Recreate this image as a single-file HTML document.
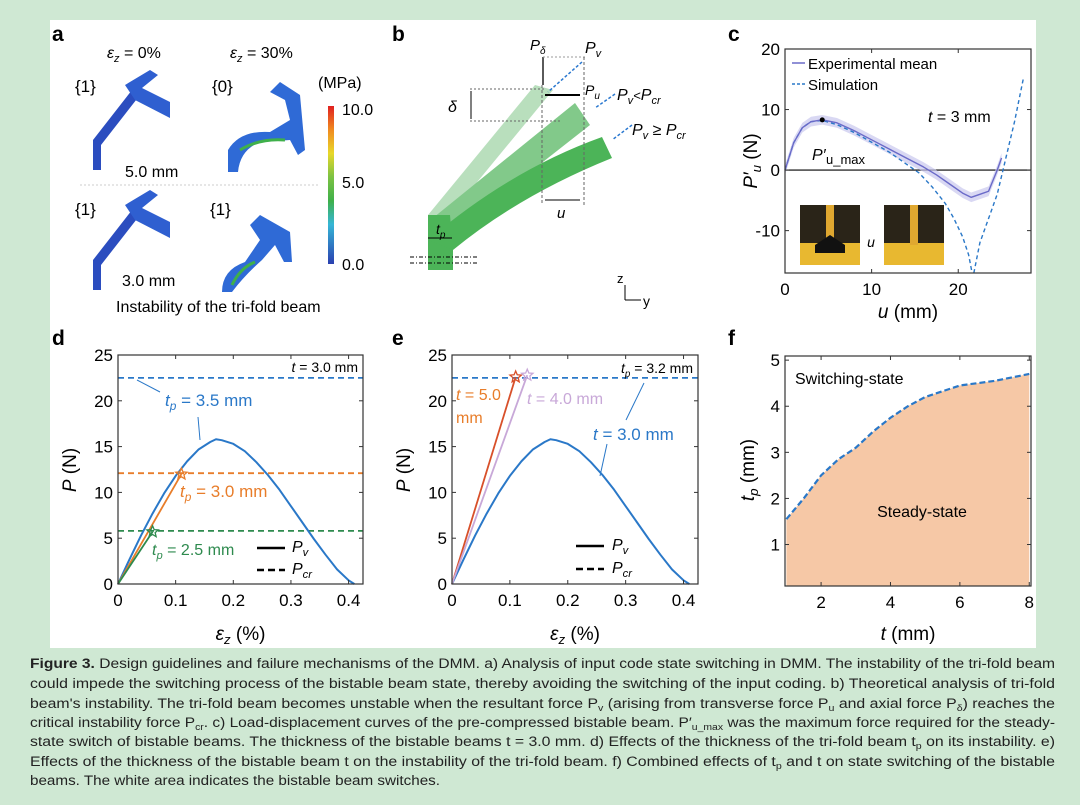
<!DOCTYPE html>
<html><head><meta charset="utf-8">
<style>
html,body{margin:0;padding:0;background:#cfe8d3;}
svg{display:block;font-family:"Liberation Sans",sans-serif;}
</style></head>
<body>
<svg id="fig" width="1080" height="805" viewBox="0 0 1080 805">
<rect x="0" y="0" width="1080" height="805" fill="#cfe8d3"/>
<rect x="50" y="20" width="986" height="628" fill="#fff"/>

<g font-weight="bold" font-size="21">
<text x="52" y="41">a</text><text x="392" y="41">b</text><text x="728" y="41">c</text>
<text x="52" y="345">d</text><text x="392" y="345">e</text><text x="728" y="345">f</text>
</g>

<g>
<text x="107" y="58" font-size="16" font-style="italic">ε<tspan font-size="11" dy="4">z</tspan><tspan dy="-4" font-style="normal"> = 0%</tspan></text>
<text x="230" y="58" font-size="16" font-style="italic">ε<tspan font-size="11" dy="4">z</tspan><tspan dy="-4" font-style="normal"> = 30%</tspan></text>
<text x="75" y="92" font-size="17">{1}</text><text x="212" y="92" font-size="17">{0}</text>
<text x="75" y="215" font-size="17">{1}</text><text x="210" y="215" font-size="17">{1}</text>
<path d="M93 170 L93 140 L132 90 L140 95 L101 145 L101 170Z" fill="#2b4dbf"/>
<path d="M125 85 L150 70 L158 75 L142 88 L170 102 L170 118 L135 100Z" fill="#2f5fd0"/>
<path d="M93 290 L93 260 L132 210 L140 215 L101 265 L101 290Z" fill="#2b4dbf"/>
<path d="M125 205 L150 190 L158 195 L142 208 L170 222 L170 238 L135 220Z" fill="#2f5fd0"/>
<path d="M228 172 L228 150 Q240 130 270 132 L290 120 L285 100 L270 92 L280 82 L300 95 L305 150 L298 155 L290 140 L260 142 Q240 150 238 172Z" fill="#2f6ad6"/>
<path d="M240 150 Q260 138 285 140" stroke="#3fb04a" stroke-width="3" fill="none"/>
<path d="M222 292 Q222 270 245 262 L260 240 L250 225 L260 215 L290 232 L292 262 L284 262 L275 245 L262 260 Q245 275 232 292Z" fill="#2f6ad6"/>
<path d="M232 285 Q240 268 255 262" stroke="#3fb04a" stroke-width="3" fill="none"/>
<text x="125" y="177" font-size="16">5.0 mm</text>
<text x="122" y="286" font-size="16">3.0 mm</text>
<line x1="80" y1="185" x2="318" y2="185" stroke="#ccc" stroke-dasharray="2 2"/>
<text x="116" y="312" font-size="16">Instability of the tri-fold beam</text>
<text x="318" y="88" font-size="16">(MPa)</text>
<defs><linearGradient id="cb" x1="0" y1="0" x2="0" y2="1">
<stop offset="0" stop-color="#e02020"/><stop offset="0.15" stop-color="#f08a20"/><stop offset="0.3" stop-color="#e8d82a"/><stop offset="0.45" stop-color="#7cc243"/><stop offset="0.6" stop-color="#3fb04a"/><stop offset="0.75" stop-color="#36b6d6"/><stop offset="1" stop-color="#2a3fb0"/></linearGradient></defs>
<rect x="328" y="106" width="6" height="158" fill="url(#cb)"/>
<text x="342" y="115" font-size="16">10.0</text>
<text x="342" y="188" font-size="16">5.0</text>
<text x="342" y="270" font-size="16">0.0</text>
</g>

<g>
<path d="M428 215 L535 85 L553 90 L450 215Z" fill="#b9dfbd"/>
<path d="M428 222 L575 103 L590 125 L450 235Z" fill="#82c98a"/>
<path d="M428 240 L428 270 L453 270 L453 250 Q520 195 612 158 L602 137 Q510 170 428 240Z" fill="#4cb458"/>
<path d="M428 240 L428 215 L450 215 L453 250Z" fill="#4cb458"/>
<text x="530" y="50" font-size="15" font-style="italic">P<tspan font-size="10" dy="4">δ</tspan></text>
<text x="585" y="53" font-size="16" font-style="italic">P<tspan font-size="11" dy="4">v</tspan></text>
<text x="585" y="95" font-size="14" font-style="italic">P<tspan font-size="10" dy="4">u</tspan></text>
<text x="617" y="100" font-size="16" font-style="italic">P<tspan font-size="11" dy="4">v</tspan><tspan dy="-4" font-size="13">&lt;</tspan>P<tspan font-size="11" dy="4">cr</tspan></text>
<text x="632" y="135" font-size="16" font-style="italic">P<tspan font-size="11" dy="4">v</tspan><tspan dy="-4" font-style="normal"> ≥ </tspan>P<tspan font-size="11" dy="4">cr</tspan></text>
<line x1="543" y1="57" x2="543" y2="85" stroke="#000" stroke-width="1.3"/>
<line x1="543" y1="57" x2="585" y2="57" stroke="#999" stroke-dasharray="2 2"/>
<line x1="584" y1="57" x2="584" y2="205" stroke="#666" stroke-dasharray="3 2"/>
<line x1="542" y1="85" x2="542" y2="205" stroke="#666" stroke-dasharray="3 2"/>
<line x1="545" y1="95" x2="580" y2="95" stroke="#000" stroke-width="2"/>
<line x1="582" y1="62" x2="548" y2="92" stroke="#2a78d0" stroke-dasharray="3 2" stroke-width="1.5"/>
<line x1="615" y1="94" x2="595" y2="108" stroke="#2a78d0" stroke-dasharray="3 2" stroke-width="1.5"/>
<line x1="632" y1="125" x2="612" y2="140" stroke="#2a78d0" stroke-dasharray="3 2" stroke-width="1.5"/>
<line x1="470" y1="89" x2="545" y2="89" stroke="#666" stroke-dasharray="2 2"/>
<line x1="470" y1="121" x2="560" y2="121" stroke="#666" stroke-dasharray="2 2"/>
<line x1="471" y1="91" x2="471" y2="119" stroke="#000"/>
<text x="448" y="112" font-size="16" font-style="italic">δ</text>
<line x1="545" y1="200" x2="580" y2="200" stroke="#000"/>
<text x="557" y="218" font-size="15" font-style="italic">u</text>
<text x="436" y="234" font-size="14" font-style="italic">t<tspan font-size="10" dy="4">p</tspan></text>
<line x1="428" y1="238" x2="452" y2="238" stroke="#000"/>
<line x1="410" y1="257" x2="477" y2="257" stroke="#000" stroke-dasharray="4 2 1 2"/>
<line x1="410" y1="263" x2="477" y2="263" stroke="#000" stroke-dasharray="4 2 1 2"/>
<text x="617" y="283" font-size="13">z</text>
<line x1="625" y1="285" x2="625" y2="300" stroke="#000"/>
<line x1="625" y1="300" x2="641" y2="300" stroke="#000"/>
<text x="643" y="306" font-size="14">y</text>
</g>

<g id="pc"></g>
<g id="pd"></g>
<g id="pe"></g>
<g id="pf"></g>

<g font-size="13.4" fill="#222">
<text x="30" y="668" textLength="1025" lengthAdjust="spacingAndGlyphs"><tspan font-weight="bold">Figure 3.</tspan>  Design guidelines and failure mechanisms of the DMM. a) Analysis of input code state switching in DMM. The instability of the tri-fold beam</text>
<text x="30" y="688" textLength="1025" lengthAdjust="spacingAndGlyphs">could impede the switching process of the bistable beam state, thereby avoiding the switching of the input coding. b) Theoretical analysis of tri-fold</text>
<text x="30" y="708" textLength="1025" lengthAdjust="spacingAndGlyphs">beam's instability. The tri-fold beam becomes unstable when the resultant force P<tspan font-size="9" dy="3">v</tspan><tspan dy="-3"> (arising from transverse force P</tspan><tspan font-size="9" dy="3">u</tspan><tspan dy="-3"> and axial force P</tspan><tspan font-size="9" dy="3">δ</tspan><tspan dy="-3">) reaches the</tspan></text>
<text x="30" y="727" textLength="1025" lengthAdjust="spacingAndGlyphs">critical instability force P<tspan font-size="9" dy="3">cr</tspan><tspan dy="-3">. c) Load-displacement curves of the pre-compressed bistable beam. P′</tspan><tspan font-size="9" dy="3">u_max</tspan><tspan dy="-3"> was the maximum force required for the steady-</tspan></text>
<text x="30" y="746" textLength="1025" lengthAdjust="spacingAndGlyphs">state switch of bistable beams. The thickness of the bistable beams t = 3.0 mm. d) Effects of the thickness of the tri-fold beam t<tspan font-size="9" dy="3">p</tspan><tspan dy="-3"> on its instability. e)</tspan></text>
<text x="30" y="766" textLength="1025" lengthAdjust="spacingAndGlyphs">Effects of the thickness of the bistable beam t on the instability of the tri-fold beam. f) Combined effects of t<tspan font-size="9" dy="3">p</tspan><tspan dy="-3"> and t on state switching of the bistable</tspan></text>
<text x="30" y="785" textLength="410" lengthAdjust="spacingAndGlyphs">beams. The white area indicates the bistable beam switches.</text>
</g>
</svg>

<script>
const cExpU = [0, 1, 2, 3, 4.3, 6, 8, 10, 12, 14, 16, 17.5, 19, 20.5, 21.5, 22.5, 23.5, 24.5, 25];
const cExpP = [0, 4.5, 7, 8, 8.3, 7.8, 6.5, 5, 3.5, 2, 0.5, -0.8, -2.3, -3.8, -4.5, -4, -3.5, 0, 2];
const cSimU = [0, 1, 2, 3, 4.3, 6, 8, 10, 12, 14, 15.5, 17, 18.5, 19.5, 20.5, 21.2, 21.6];
const cSimP = [0, 4.5, 7, 8, 8.2, 7.5, 6.2, 4.6, 3, 1, -0.5, -2.8, -5.5, -8, -11, -14, -17];
const cSim2U = [21.8, 22.5, 23.5, 24.5, 25.5, 26.5, 27.5];
const cSim2P = [-17, -12, -8, -4, 2, 8, 15];
const archX = [0, 0.02, 0.04, 0.06, 0.08, 0.1, 0.12, 0.14, 0.16, 0.17, 0.18, 0.2, 0.22, 0.24, 0.26, 0.28, 0.3, 0.32, 0.34, 0.36, 0.38, 0.4, 0.41];
const archY = [0, 2.7, 5.3, 7.7, 9.9, 11.8, 13.4, 14.7, 15.5, 15.8, 15.7, 15.3, 14.5, 13.3, 11.9, 10.3, 8.5, 6.7, 4.9, 3.2, 1.6, 0.4, 0];
const dPcr = [22.5, 12.1, 5.8];
const dColors = ['#2a78c8', '#e87d2a', '#2e8a4e'];
const dLineX = [0.11, 0.06];
const dLineY = [12.0, 5.7];
const ePcr = [22.5];
const eLineX = [0.11, 0.13];
const eLineY = [22.6, 22.8];
const fT = [1, 1.5, 2, 2.5, 3, 3.5, 4, 4.5, 5, 6, 7, 8];
const fTp = [1.55, 2.0, 2.5, 2.85, 3.1, 3.45, 3.75, 4.0, 4.2, 4.45, 4.55, 4.7];

const NS = 'http://www.w3.org/2000/svg';
function mk(parent, tag, attrs) {
  const e = document.createElementNS(NS, tag);
  for (const k in attrs) e.setAttribute(k, attrs[k]);
  parent.appendChild(e); return e;
}
function txt(parent, x, y, s, size, anchor) {
  const t = mk(parent, 'text', {x: x, y: y, 'font-size': size || 17, 'text-anchor': anchor || 'middle'});
  t.textContent = s; return t;
}
function axes(g, L, R, T, B, xmin, xmax, ymin, ymax) {
  const sx = v => L + (v - xmin) / (xmax - xmin) * (R - L);
  const sy = v => B - (v - ymin) / (ymax - ymin) * (B - T);
  return {sx, sy};
}
function frame(g, L, R, T, B, xt, yt, sx, sy, xlabels, ylabels) {
  const r = mk(g, 'rect', {x: L, y: T, width: R - L, height: B - T, fill: 'none', stroke: '#333', 'stroke-width': 1.2});
  
  
  xt.forEach((v, i) => {
    mk(g, 'line', {x1: sx(v), x2: sx(v), y1: B, y2: B - 4, stroke: '#333'});
    mk(g, 'line', {x1: sx(v), x2: sx(v), y1: T, y2: T + 4, stroke: '#333'});
    const t = txt(g, sx(v), B + 22, xlabels[i], 17);
    
    
  });
  yt.forEach((v, i) => {
    mk(g, 'line', {x1: L, x2: L + 4, y1: sy(v), y2: sy(v), stroke: '#333'});
    mk(g, 'line', {x1: R, x2: R - 4, y1: sy(v), y2: sy(v), stroke: '#333'});
    const t = txt(g, L - 5, sy(v) + 6, ylabels[i], 17, 'end');
    
    
  });
}
function poly(g, xs, ys, sx, sy, attrs, name) {
  const p = mk(g, 'polyline', Object.assign({points: xs.map((x, i) => sx(x) + ',' + sy(ys[i])).join(' '), fill: 'none', 'stroke-linejoin': 'round'}, attrs));
  
  
  return p;
}
function star(g, cx, cy, r, color, name) {
  let pts = [];
  for (let i = 0; i < 10; i++) {
    const a = -Math.PI / 2 + i * Math.PI / 5, rr = i % 2 ? r * 0.45 : r;
    pts.push((cx + rr * Math.cos(a)) + ',' + (cy + rr * Math.sin(a)));
  }
  const s = mk(g, 'polygon', {points: pts.join(' '), fill: 'none', stroke: color, 'stroke-width': 1.3});
  
  
}
function subLabel(g, x, y, main, sub, rest, size, color, anchor) {
  const t = mk(g, 'text', {x: x, y: y, 'font-size': size, fill: color || '#000', 'text-anchor': anchor || 'start'});
  const a = mk(t, 'tspan', {'font-style': 'italic'}); a.textContent = main;
  if (sub) {
    const b = mk(t, 'tspan', {'font-style': 'italic', 'font-size': size * 0.7, dy: 4}); b.textContent = sub;
    const c = mk(t, 'tspan', {dy: -4}); c.textContent = rest;
  } else {
    const c = mk(t, 'tspan', {}); c.textContent = rest;
  }
  return t;
}

(function () {
  const g = document.getElementById('pc');
  const L = 785, R = 1031, T = 49, B = 273;
  const {sx, sy} = axes(g, L, R, T, B, 0, 28.4, -17, 20);
  mk(g, 'line', {x1: L, x2: R, y1: sy(0), y2: sy(0), stroke: '#000', 'stroke-width': 1.2});
  const up = cExpU.map((u, i) => sx(u) + ',' + sy(cExpP[i] + 0.8)).join(' ');
  const dn = cExpU.slice().reverse().map((u, i) => sx(u) + ',' + sy(cExpP[cExpU.length - 1 - i] - 0.8)).join(' ');
  const band = mk(g, 'polygon', {points: up + ' ' + dn, fill: '#c9c8ee', opacity: 0.7});
  
  
  const ph = [[800, 205, 60, 60], [884, 205, 60, 60]];
  ph.forEach((p, i) => {
    const r = mk(g, 'rect', {x: p[0], y: p[1], width: p[2], height: p[3], fill: '#2a2418'});
    
    
    mk(g, 'rect', {x: p[0], y: p[1] + 38, width: p[2], height: 22, fill: '#e8b830'});
    mk(g, 'rect', {x: p[0] + 26, y: p[1], width: 8, height: 40, fill: '#e0a830'});
  });
  mk(g, 'polygon', {points: '815,245 830,235 845,245 845,253 815,253', fill: '#111'});
  txt(g, 871, 247, 'u', 14).setAttribute('font-style', 'italic');
  poly(g, cSimU, cSimP, sx, sy, {stroke: '#2a78c8', 'stroke-width': 1.4, 'stroke-dasharray': '4 3'}, 'simulation-line');
  poly(g, cSim2U, cSim2P, sx, sy, {stroke: '#2a78c8', 'stroke-width': 1.4, 'stroke-dasharray': '4 3'}, 'simulation-line-2');
  poly(g, cExpU, cExpP, sx, sy, {stroke: '#6a6ac8', 'stroke-width': 1.4}, 'experimental-mean-line');
  const dot = mk(g, 'circle', {cx: sx(4.3), cy: sy(8.3), r: 2.5, fill: '#000'});
  
  
  frame(g, L, R, T, B, [0, 10, 20], [20, 10, 0, -10], sx, sy, ['0', '10', '20'], ['20', '10', '0', '-10']);
  mk(g, 'line', {x1: 792, x2: 805, y1: 63, y2: 63, stroke: '#6a6ac8', 'stroke-width': 1.5});
  txt(g, 808, 69, 'Experimental mean', 15, 'start');
  mk(g, 'line', {x1: 792, x2: 805, y1: 84, y2: 84, stroke: '#2a78c8', 'stroke-width': 1.5, 'stroke-dasharray': '3 2'});
  txt(g, 808, 90, 'Simulation', 15, 'start');
  subLabel(g, 928, 122, 't', '', ' = 3 mm', 16);
  txt(g, 812, 160, 'P′', 16, 'start').setAttribute('font-style', 'italic');
  txt(g, 826, 164, 'u_max', 13, 'start');
  subLabel(g, 908, 318, 'u', '', ' (mm)', 19, '#000', 'middle');
  const yl = subLabel(g, 0, 0, 'P′', 'u', ' (N)', 19, '#000', 'middle');
  yl.setAttribute('transform', 'translate(757,161) rotate(-90)');
})();

function pvPanel(id, L, R, pcr, lx, ly, lcols) {
  const g = document.getElementById(id);
  const T = 355, B = 584;
  const {sx, sy} = axes(g, L, R, T, B, 0, 0.425, 0, 25);
  pcr.forEach((v, i) => {
    const l = mk(g, 'line', {x1: L, x2: R, y1: sy(v), y2: sy(v), stroke: dColors[i], 'stroke-width': 1.8, 'stroke-dasharray': '6 4'});
    
    
  });
  poly(g, archX, archY, sx, sy, {stroke: '#2a78c8', 'stroke-width': 2}, 'pv-curve');
  lx.forEach((x, i) => {
    poly(g, [0, x], [0, ly[i]], sx, sy, {stroke: lcols[i], 'stroke-width': 1.8}, 'pv-line-' + i);
    star(g, sx(x), sy(ly[i]), 6, lcols[i], 'critical-star-' + i);
  });
  frame(g, L, R, T, B, [0, 0.1, 0.2, 0.3, 0.4], [0, 5, 10, 15, 20, 25], sx, sy,
    ['0', '0.1', '0.2', '0.3', '0.4'], ['0', '5', '10', '15', '20', '25']);
  subLabel(g, (L + R) / 2, 640, 'ε', 'z', ' (%)', 19, '#000', 'middle');
  const yl = subLabel(g, 0, 0, 'P', '', ' (N)', 19, '#000', 'middle');
  yl.setAttribute('transform', 'translate(' + (L - 42) + ',470) rotate(-90)');
  return {g, sx, sy};
}
(function () {
  const p = pvPanel('pd', 118, 363, dPcr, dLineX, dLineY, ['#e87d2a', '#2e8a4e']);
  const g = p.g;
  subLabel(g, 358, 372, 't', '', ' = 3.0 mm', 14, '#000', 'end');
  subLabel(g, 165, 406, 't', 'p', ' = 3.5 mm', 17, '#2a78c8');
  subLabel(g, 180, 497, 't', 'p', ' = 3.0 mm', 17, '#e87d2a');
  subLabel(g, 152, 555, 't', 'p', ' = 2.5 mm', 16, '#2e8a4e');
  mk(g, 'line', {x1: 257, x2: 285, y1: 548, y2: 548, stroke: '#000', 'stroke-width': 2.5});
  mk(g, 'line', {x1: 257, x2: 285, y1: 570, y2: 570, stroke: '#000', 'stroke-width': 2.5, 'stroke-dasharray': '7 4'});
  subLabel(g, 292, 552, 'P', 'v', '', 16);
  subLabel(g, 292, 574, 'P', 'cr', '', 16);
  mk(g, 'line', {x1: 137, x2: 160, y1: 380, y2: 392, stroke: '#2a78c8'});
  mk(g, 'line', {x1: 200, x2: 198, y1: 440, y2: 417, stroke: '#2a78c8'});
})();
(function () {
  const p = pvPanel('pe', 452, 698, ePcr, eLineX, eLineY, ['#d8502a', '#c8a8d8']);
  const g = p.g;
  subLabel(g, 693, 373, 't', 'p', ' = 3.2 mm', 14, '#000', 'end');
  subLabel(g, 456, 400, 't', '', ' = 5.0', 16, '#e87d2a');
  txt(g, 456, 423, 'mm', 16, 'start').setAttribute('fill', '#e87d2a');
  subLabel(g, 527, 404, 't', '', ' = 4.0 mm', 16, '#c8a8d8');
  subLabel(g, 593, 440, 't', '', ' = 3.0 mm', 17, '#2a78c8');
  mk(g, 'line', {x1: 644, x2: 626, y1: 383, y2: 420, stroke: '#2a78c8'});
  mk(g, 'line', {x1: 607, x2: 600, y1: 444, y2: 476, stroke: '#2a78c8'});
  mk(g, 'line', {x1: 576, x2: 604, y1: 546, y2: 546, stroke: '#000', 'stroke-width': 2.5});
  mk(g, 'line', {x1: 576, x2: 604, y1: 569, y2: 569, stroke: '#000', 'stroke-width': 2.5, 'stroke-dasharray': '7 4'});
  subLabel(g, 612, 550, 'P', 'v', '', 16);
  subLabel(g, 612, 573, 'P', 'cr', '', 16);
})();

(function () {
  const g = document.getElementById('pf');
  const L = 785, R = 1031, T = 356, B = 586;
  const {sx, sy} = axes(g, L, R, T, B, 0.96, 8.05, 0.1, 5.09);
  const pts = fT.map((t, i) => sx(t) + ',' + sy(fTp[i])).join(' ');
  const area = mk(g, 'polygon', {points: sx(fT[0]) + ',' + B + ' ' + pts + ' ' + sx(fT[fT.length - 1]) + ',' + B, fill: '#f6c8a6'});
  
  
  poly(g, fT, fTp, sx, sy, {stroke: '#2a78c8', 'stroke-width': 2.2, 'stroke-dasharray': '6 3'}, 'boundary-line');
  frame(g, L, R, T, B, [2, 4, 6, 8], [1, 2, 3, 4, 5], sx, sy, ['2', '4', '6', '8'], ['1', '2', '3', '4', '5']);
  txt(g, 795, 384, 'Switching-state', 16, 'start');
  txt(g, 922, 517, 'Steady-state', 16);
  subLabel(g, 908, 640, 't', '', ' (mm)', 19, '#000', 'middle');
  const yl = subLabel(g, 0, 0, 't', 'p', ' (mm)', 19, '#000', 'middle');
  yl.setAttribute('transform', 'translate(754,470) rotate(-90)');
})();
</script>
</body></html>
